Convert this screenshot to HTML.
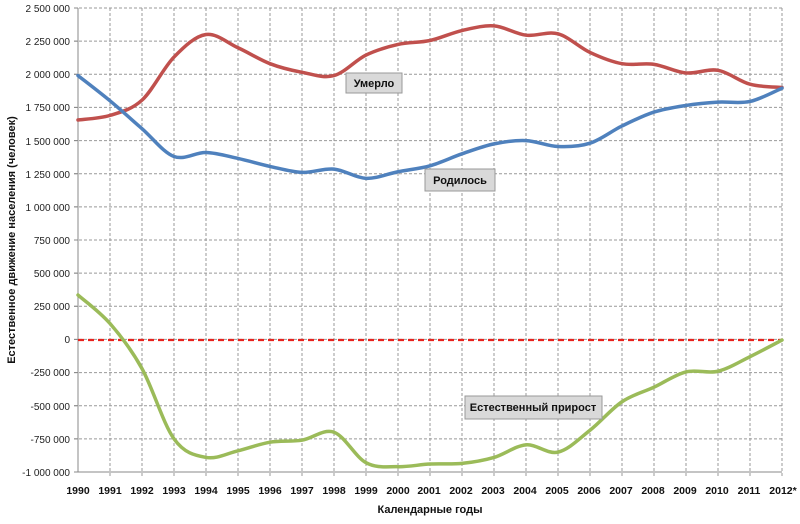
<!DOCTYPE html>
<html><head><meta charset="utf-8"><style>
body{margin:0;background:#fff;width:800px;height:524px;overflow:hidden}
svg{display:block;font-family:"Liberation Sans",sans-serif}
</style></head><body>
<svg id="s" width="800" height="524" viewBox="0 0 800 524">
<g id="grid"></g>
<g font-size="10" fill="#222" text-anchor="end">
<text x="70" y="12">2 500 000</text>
<text x="70" y="45">2 250 000</text>
<text x="70" y="78">2 000 000</text>
<text x="70" y="111">1 750 000</text>
<text x="70" y="145">1 500 000</text>
<text x="70" y="178">1 250 000</text>
<text x="70" y="211">1 000 000</text>
<text x="70" y="244">750 000</text>
<text x="70" y="277">500 000</text>
<text x="70" y="310">250 000</text>
<text x="70" y="343">0</text>
<text x="70" y="376">-250 000</text>
<text x="70" y="410">-500 000</text>
<text x="70" y="443">-750 000</text>
<text x="70" y="476">-1 000 000</text>
</g>
<g font-size="10.5" font-weight="bold" fill="#111" text-anchor="middle">
<text x="78" y="494">1990</text><text x="110" y="494">1991</text><text x="142" y="494">1992</text><text x="174" y="494">1993</text><text x="206" y="494">1994</text><text x="238" y="494">1995</text><text x="270" y="494">1996</text><text x="302" y="494">1997</text><text x="334" y="494">1998</text><text x="366" y="494">1999</text><text x="398" y="494">2000</text><text x="429" y="494">2001</text><text x="461" y="494">2002</text><text x="493" y="494">2003</text><text x="525" y="494">2004</text><text x="557" y="494">2005</text><text x="589" y="494">2006</text><text x="621" y="494">2007</text><text x="653" y="494">2008</text><text x="685" y="494">2009</text><text x="717" y="494">2010</text><text x="749" y="494">2011</text><text x="783" y="494">2012*</text>
</g>
<text x="430" y="513" font-size="11" font-weight="bold" text-anchor="middle" fill="#111">Календарные годы</text>
<text transform="translate(15,240) rotate(-90)" font-size="11" font-weight="bold" text-anchor="middle" fill="#111">Естественное движение населения (человек)</text>
<line x1="78" y1="340" x2="782" y2="340" stroke="#e8211c" stroke-width="2.2" stroke-dasharray="6,4"/>
<g id="curves" fill="none" stroke-width="3.5" stroke-linecap="round"></g>
<g font-size="11" font-weight="bold" fill="#111" text-anchor="middle">
<rect x="346" y="73" width="56" height="20" fill="#d9d9d9" stroke="#999"/><text x="374" y="87">Умерло</text>
<rect x="425" y="169" width="70" height="22" fill="#d9d9d9" stroke="#999"/><text x="460" y="184">Родилось</text>
<rect x="465" y="396" width="137" height="23" fill="#d9d9d9" stroke="#999"/><text x="533" y="411">Естественный прирост</text>
</g>
</svg>
<script>
var X0=78,DX=(782-78)/22,Y0=8,K=464/3500000;
function X(i){return X0+i*DX}function Y(v){return Y0+(2500000-v)*K}
var g='';
for(var i=1;i<=22;i++)g+='<line x1="'+X(i)+'" y1="8" x2="'+X(i)+'" y2="476" stroke="#999" stroke-dasharray="3,2"/>';
for(var j=0;j<14;j++){var y=Y(2500000-j*250000);g+='<line x1="74" y1="'+y+'" x2="782" y2="'+y+'" stroke="#999" stroke-dasharray="3,2"/>';}
g+='<line x1="78" y1="8" x2="78" y2="472" stroke="#888"/><line x1="74" y1="472" x2="782" y2="472" stroke="#888"/>';
for(var j=0;j<15;j++){var y=Y(2500000-j*250000);g+='<line x1="74" y1="'+y+'" x2="78" y2="'+y+'" stroke="#888"/>';}
document.getElementById('grid').innerHTML=g;
var red=[1655,1690,1805,2130,2300,2200,2080,2015,1990,2145,2225,2255,2330,2365,2295,2305,2165,2080,2075,2010,2030,1925,1900];
var blue=[1990,1800,1590,1380,1410,1365,1305,1260,1285,1215,1265,1310,1400,1475,1500,1455,1480,1610,1715,1765,1790,1795,1895];
var green=[335,120,-220,-750,-890,-840,-775,-760,-700,-930,-960,-940,-935,-890,-795,-850,-685,-470,-360,-245,-240,-130,-5];
function path(d){var p=d.map(function(v,i){return[X(i),Y(v*1000)]});var s='M'+p[0][0]+','+p[0][1];
for(var i=0;i<p.length-1;i++){var a=p[i-1]||p[i],b=p[i],c=p[i+1],e=p[i+2]||c;
s+=' C'+(b[0]+(c[0]-a[0])/6)+','+(b[1]+(c[1]-a[1])/6)+' '+(c[0]-(e[0]-b[0])/6)+','+(c[1]-(e[1]-b[1])/6)+' '+c[0]+','+c[1];}return s}
document.getElementById('curves').innerHTML='<path d="'+path(red)+'" stroke="#c0504d"/><path d="'+path(blue)+'" stroke="#4f81bd"/><path d="'+path(green)+'" stroke="#9bbb59"/>';
</script>
</body></html>
